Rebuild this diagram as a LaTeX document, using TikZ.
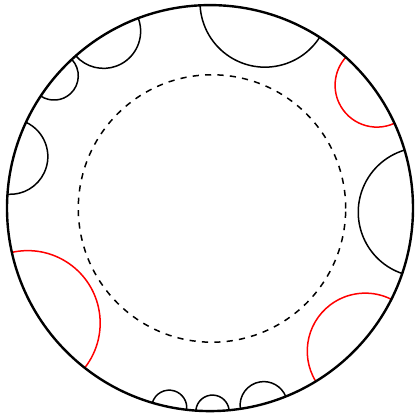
\documentclass[tikz,border=0pt]{standalone}
\tikzset{
  rim/.style={line width=2.4pt},
  geod/.style={line width=1.5pt},
  horo/.style={line width=1.5pt, dash pattern=on 6.2pt off 6.2pt}
}
\begin{document}
\begin{tikzpicture}[x=1pt, y=1pt]
  \useasboundingbox (-210,-210.9) rectangle (206,208.1);
  % Dashed circle
  \draw[horo] (2,-0.4) circle (133.7);
  % Geodesics: end angles on the rim / colour
  \foreach \a/\b/\c in {57.3/92.8/black, 24.7/48.0/red, -18.8/16.6/black,
                        -58.6/-26.7/red, -81.4/-68.1/black, -94.0/-84.6/black,
                        -106.5/-96.6/black, 192.6/231.9/red, 155.0/176.1/black,
                        132.9/146.5/black, 110.7/131.4/black} {
    \pgfmathsetmacro{\ma}{(\a+\b)/2}
    \pgfmathsetmacro{\ha}{(\b-\a)/2}
    \pgfmathsetmacro{\ra}{203*tan(\ha)}
    \draw[geod, \c] (\a:203) arc[start angle=\ma+270-\ha, end angle=\ma+90+\ha, radius=\ra];
  }
  % Boundary
  \draw[rim] (0,0) circle (203);
\end{tikzpicture}
\end{document}
